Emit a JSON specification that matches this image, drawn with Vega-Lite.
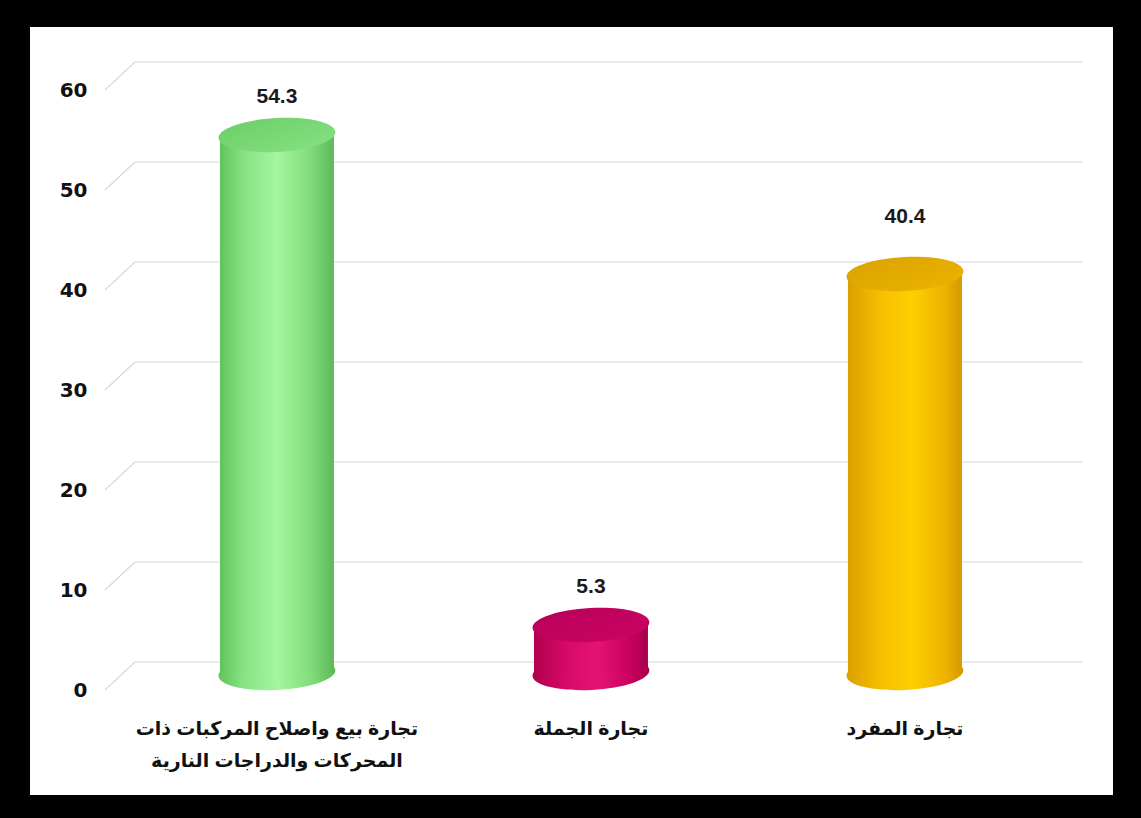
{
  "$schema": "https://vega.github.io/schema/vega-lite/v6.json",
  "autosize": "none",
  "width": 1083,
  "height": 768,
  "padding": {"left": 30, "top": 27, "right": 28, "bottom": 23},
  "background": "black",
  "config": {
    "view": {"fill": "white", "stroke": null},
    "font": "Liberation Sans, DejaVu Sans"
  },
  "datasets": {
    "bars": [
      {"sector": "تجارة بيع  واصلاح المركبات ذات المحركات والدراجات النارية", "value": 54.3},
      {"sector": "تجارة الجملة", "value": 5.3},
      {"sector": "تجارة المفرد", "value": 40.4}
    ],
    "grid": [{"v": 0}, {"v": 10}, {"v": 20}, {"v": 30}, {"v": 40}, {"v": 50}, {"v": 60}]
  },
  "data": {"name": "bars"},
  "encoding": {
    "x": {
      "field": "sector", "type": "nominal", "sort": null,
      "scale": {"paddingInner": 0, "paddingOuter": 0.2245, "align": 0.638},
      "axis": {
        "orient": "bottom", "offset": -90, "title": null, "labelAngle": 0,
        "domain": false, "ticks": false, "grid": false,
        "labelFont": "Liberation Sans, DejaVu Sans", "labelFontSize": 19, "labelFontWeight": "bold",
        "labelColor": "#111111", "labelPadding": 14, "labelLimit": 0, "labelLineHeight": 32,
        "labelBaseline": "top",
        "labelExpr": "indexof(datum.label, 'ذات ') > 0 ? [substring(datum.label, 0, indexof(datum.label, 'ذات ') + 3), substring(datum.label, indexof(datum.label, 'ذات ') + 4)] : datum.label"
      }
    }
  },
  "layer": [
    {
      "data": {"name": "grid"},
      "mark": {"type": "rule", "color": "#d9d9d9", "strokeWidth": 1.2, "yOffset": -28},
      "encoding": {
        "x": {"value": 105},
        "x2": {"value": 1053},
        "y": {"field": "v", "type": "quantitative",
          "scale": {"domain": [-10.5, 66.3], "nice": false, "zero": false},
          "axis": {
            "orient": "left", "offset": -60, "values": [0, 10, 20, 30, 40, 50, 60],
            "title": null, "domain": false, "ticks": false, "grid": false,
            "labelFont": "DejaVu Sans", "labelFontSize": 20, "labelFontWeight": "bold",
            "labelColor": "#111111", "labelPadding": 3
          }
        }
      }
    },
    {
      "data": {"name": "grid"},
      "mark": {"type": "rule", "color": "#d9d9d9", "strokeWidth": 1.2, "y2Offset": -28},
      "encoding": {
        "x": {"value": 75},
        "x2": {"value": 105},
        "y": {"field": "v", "type": "quantitative"},
        "y2": {"field": "v"}
      }
    },
    {
      "transform": [{"filter": {"field": "value", "equal": 54.3}}],
      "layer": [
        {
          "mark": {"type": "point", "shape": "M -1 0 A 1 0.29 0 1 0 1 0 A 1 0.29 0 1 0 -1 0 Z", "size": 13689, "filled": true, "opacity": 1, "yOffset": -17, "angle": -3,
            "fill": {"gradient": "linear", "x1": 0, "x2": 1, "y1": 0, "y2": 0, "stops": [{"offset": 0, "color": "#5fc45c"}, {"offset": 0.2, "color": "#86e282"}, {"offset": 0.5, "color": "#a5f59f"}, {"offset": 0.8, "color": "#80dc7b"}, {"offset": 1, "color": "#5cb858"}]}, "stroke": null},
          "encoding": {"y": {"datum": 0, "type": "quantitative"}}
        },
        {
          "mark": {"type": "bar", "width": 114, "yOffset": -12, "y2Offset": -17,
            "color": {"gradient": "linear", "x1": 0, "x2": 1, "y1": 0, "y2": 0, "stops": [{"offset": 0, "color": "#5fc45c"}, {"offset": 0.2, "color": "#86e282"}, {"offset": 0.5, "color": "#a5f59f"}, {"offset": 0.8, "color": "#80dc7b"}, {"offset": 1, "color": "#5cb858"}]}},
          "encoding": {"y": {"field": "value", "type": "quantitative"}, "y2": {"datum": 0}}
        },
        {
          "mark": {"type": "point", "shape": "M -1 0 A 1 0.29 0 1 0 1 0 A 1 0.29 0 1 0 -1 0 Z", "size": 13689, "filled": true, "opacity": 1, "yOffset": -12, "angle": -3,
            "fill": {"gradient": "linear", "x1": 0, "x2": 1, "y1": 0, "y2": 1, "stops": [{"offset": 0, "color": "#6ccf68"}, {"offset": 1, "color": "#86e082"}]}, "stroke": null},
          "encoding": {"y": {"field": "value", "type": "quantitative"}}
        }
      ]
    },
    {
      "transform": [{"filter": {"field": "value", "equal": 5.3}}],
      "layer": [
        {
          "mark": {"type": "point", "shape": "M -1 0 A 1 0.29 0 1 0 1 0 A 1 0.29 0 1 0 -1 0 Z", "size": 13689, "filled": true, "opacity": 1, "yOffset": -17, "angle": -3,
            "fill": {"gradient": "linear", "x1": 0, "x2": 1, "y1": 0, "y2": 0, "stops": [{"offset": 0, "color": "#b0004f"}, {"offset": 0.3, "color": "#d80a68"}, {"offset": 0.55, "color": "#e41476"}, {"offset": 0.85, "color": "#c8005e"}, {"offset": 1, "color": "#a6004c"}]}, "stroke": null},
          "encoding": {"y": {"datum": 0, "type": "quantitative"}}
        },
        {
          "mark": {"type": "bar", "width": 114, "yOffset": -12, "y2Offset": -17,
            "color": {"gradient": "linear", "x1": 0, "x2": 1, "y1": 0, "y2": 0, "stops": [{"offset": 0, "color": "#b0004f"}, {"offset": 0.3, "color": "#d80a68"}, {"offset": 0.55, "color": "#e41476"}, {"offset": 0.85, "color": "#c8005e"}, {"offset": 1, "color": "#a6004c"}]}},
          "encoding": {"y": {"field": "value", "type": "quantitative"}, "y2": {"datum": 0}}
        },
        {
          "mark": {"type": "point", "shape": "M -1 0 A 1 0.29 0 1 0 1 0 A 1 0.29 0 1 0 -1 0 Z", "size": 13689, "filled": true, "opacity": 1, "yOffset": -12, "angle": -3,
            "fill": {"gradient": "linear", "x1": 0, "x2": 1, "y1": 0, "y2": 1, "stops": [{"offset": 0, "color": "#b8005a"}, {"offset": 1, "color": "#cc0464"}]}, "stroke": null},
          "encoding": {"y": {"field": "value", "type": "quantitative"}}
        }
      ]
    },
    {
      "transform": [{"filter": {"field": "value", "equal": 40.4}}],
      "layer": [
        {
          "mark": {"type": "point", "shape": "M -1 0 A 1 0.29 0 1 0 1 0 A 1 0.29 0 1 0 -1 0 Z", "size": 13689, "filled": true, "opacity": 1, "yOffset": -17, "angle": -3,
            "fill": {"gradient": "linear", "x1": 0, "x2": 1, "y1": 0, "y2": 0, "stops": [{"offset": 0, "color": "#dba000"}, {"offset": 0.3, "color": "#f7c000"}, {"offset": 0.55, "color": "#ffcf00"}, {"offset": 0.85, "color": "#eeb200"}, {"offset": 1, "color": "#d49a00"}]}, "stroke": null},
          "encoding": {"y": {"datum": 0, "type": "quantitative"}}
        },
        {
          "mark": {"type": "bar", "width": 114, "yOffset": -12, "y2Offset": -17,
            "color": {"gradient": "linear", "x1": 0, "x2": 1, "y1": 0, "y2": 0, "stops": [{"offset": 0, "color": "#dba000"}, {"offset": 0.3, "color": "#f7c000"}, {"offset": 0.55, "color": "#ffcf00"}, {"offset": 0.85, "color": "#eeb200"}, {"offset": 1, "color": "#d49a00"}]}},
          "encoding": {"y": {"field": "value", "type": "quantitative"}, "y2": {"datum": 0}}
        },
        {
          "mark": {"type": "point", "shape": "M -1 0 A 1 0.29 0 1 0 1 0 A 1 0.29 0 1 0 -1 0 Z", "size": 13689, "filled": true, "opacity": 1, "yOffset": -12, "angle": -3,
            "fill": {"gradient": "linear", "x1": 0, "x2": 1, "y1": 0, "y2": 1, "stops": [{"offset": 0, "color": "#dca200"}, {"offset": 1, "color": "#ebb300"}]}, "stroke": null},
          "encoding": {"y": {"field": "value", "type": "quantitative"}}
        }
      ]
    },
    {
      "transform": [{"filter": "datum.value != 40.4"}],
      "mark": {"type": "text", "dy": -50, "fontSize": 21, "fontWeight": "bold", "font": "Liberation Sans, DejaVu Sans", "color": "#1a1a1a"},
      "encoding": {
        "y": {"field": "value", "type": "quantitative"},
        "text": {"field": "value", "type": "quantitative", "format": ".1f"}
      }
    },
    {
      "transform": [{"filter": {"field": "value", "equal": 40.4}}],
      "mark": {"type": "text", "dy": -69, "fontSize": 21, "fontWeight": "bold", "font": "Liberation Sans, DejaVu Sans", "color": "#1a1a1a"},
      "encoding": {
        "y": {"field": "value", "type": "quantitative"},
        "text": {"field": "value", "type": "quantitative", "format": ".1f"}
      }
    }
  ]
}
